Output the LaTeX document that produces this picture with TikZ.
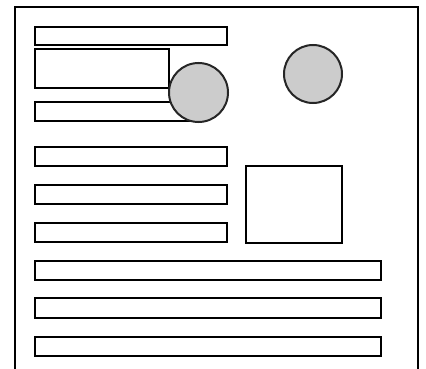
\documentclass[tikz,border=0pt]{standalone}
\begin{document}
\begin{tikzpicture}[x=1pt,y=-1pt,
  box/.style={draw=black,line width=1.8pt,fill=white},
  disc/.style={draw=black!85,line width=2pt,fill=black!20}]
\useasboundingbox (0,0) rectangle (426,369);
\draw[line width=1.8pt] (15,369) -- (15,7) -- (418,7) -- (418,369);
\draw[box] (35,27) rectangle (227,45);
\draw[box] (35,49) rectangle (169,88);
\draw[box] (35,102) rectangle (192,121);
\draw[disc] (198.5,92.5) circle (29.5);
\draw[disc] (313,74) circle (29);
\draw[box] (35,147) rectangle (227,166);
\draw[box] (35,185) rectangle (227,204);
\draw[box] (35,223) rectangle (227,242);
\draw[box] (246,166) rectangle (342,243);
\draw[box] (35,261) rectangle (381,280);
\draw[box] (35,298) rectangle (381,318);
\draw[box] (35,337) rectangle (381,356);
\end{tikzpicture}
\end{document}
